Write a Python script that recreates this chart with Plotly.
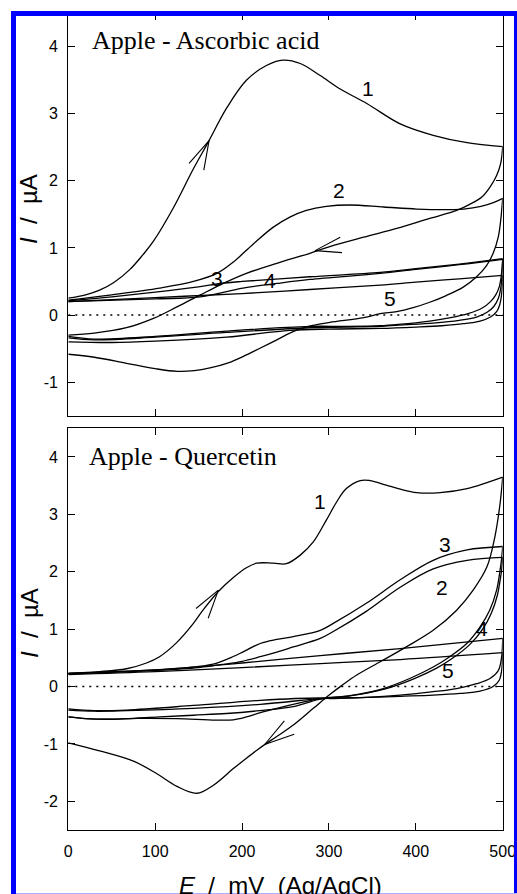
import plotly.graph_objects as go

W, H = 517, 894

# ---------------- Top panel: Apple - Ascorbic acid ----------------
# forward (0 -> 500 mV) and reverse (500 -> 0 mV) branches
A1_fwd_E = [0, 20, 36, 52, 71, 86, 98, 121, 144, 162, 182, 205, 228, 247, 267, 290, 313, 344, 382, 420, 459, 500]
A1_fwd_I = [0.25, 0.30, 0.37, 0.48, 0.68, 0.90, 1.10, 1.60, 2.18, 2.6, 3.08, 3.5, 3.72, 3.8, 3.75, 3.57, 3.37, 3.15, 2.85, 2.68, 2.57, 2.51]
A1_rev_E = [500, 497.7, 493, 485, 476, 462, 447, 416, 378, 340, 301, 278, 240, 205, 175, 152, 125, 98, 67, 30, 0]
A1_rev_I = [2.51, 2.26, 2.08, 1.90, 1.76, 1.65, 1.56, 1.44, 1.29, 1.16, 1.02, 0.92, 0.77, 0.62, 0.45, 0.30, 0.12, -0.05, -0.19, -0.27, -0.30]

A2_fwd_E = [0, 50, 105, 144, 171, 190, 213, 236, 255, 274, 297, 324, 363, 401, 430, 455, 475, 490, 500]
A2_fwd_I = [0.22, 0.30, 0.40, 0.50, 0.62, 0.79, 1.06, 1.31, 1.46, 1.56, 1.62, 1.64, 1.61, 1.58, 1.57, 1.58, 1.62, 1.68, 1.74]
A2_rev_E = [500, 497.7, 495, 489, 481.6, 470, 455, 435, 416, 397, 378, 359, 340, 301, 280, 260, 240, 220, 201, 185, 163, 145, 125, 100, 67, 30, 0]
A2_rev_I = [1.74, 1.41, 1.17, 0.92, 0.74, 0.57, 0.42, 0.29, 0.19, 0.11, 0.05, 0.02, -0.04, -0.11, -0.16, -0.24, -0.37, -0.50, -0.62, -0.71, -0.79, -0.83, -0.84, -0.80, -0.72, -0.63, -0.585]

A3_fwd_E = [0, 50, 100, 150, 175, 200, 278, 359, 400, 450, 500]
A3_fwd_I = [0.21, 0.27, 0.34, 0.42, 0.47, 0.50, 0.57, 0.635, 0.69, 0.76, 0.84]
A3_rev_E = [500, 498.5, 496, 492, 486, 476, 460, 440, 416, 380, 359, 320, 278, 182, 100, 30, 0]
A3_rev_I = [0.84, 0.60, 0.42, 0.30, 0.20, 0.10, 0.02, -0.04, -0.09, -0.14, -0.16, -0.17, -0.17, -0.24, -0.32, -0.36, -0.32]

A4_fwd_E = [0, 100, 152, 201, 240, 278, 359, 400, 450, 500]
A4_fwd_I = [0.20, 0.24, 0.27, 0.40, 0.47, 0.53, 0.62, 0.68, 0.75, 0.83]
A4_rev_E = [500, 499, 497.5, 495, 490, 482, 470, 450, 420, 380, 359, 320, 278, 182, 100, 30, 0]
A4_rev_I = [0.83, 0.55, 0.38, 0.25, 0.13, 0.04, -0.03, -0.08, -0.12, -0.15, -0.17, -0.18, -0.19, -0.26, -0.33, -0.37, -0.34]

A5_fwd_E = [0, 100, 200, 278, 359, 400, 450, 500]
A5_fwd_I = [0.20, 0.26, 0.32, 0.38, 0.446, 0.49, 0.54, 0.59]
A5_rev_E = [500, 499.5, 498.5, 496.5, 493, 486, 474, 455, 430, 400, 359, 300, 255, 182, 100, 50, 0]
A5_rev_I = [0.59, 0.42, 0.28, 0.15, 0.05, -0.03, -0.09, -0.13, -0.16, -0.18, -0.20, -0.21, -0.23, -0.33, -0.39, -0.41, -0.40]

# ---------------- Bottom panel: Apple - Quercetin ----------------
Q1_fwd_E = [0, 36, 67, 90, 105, 125, 144, 155, 173, 190, 205, 217, 236, 251, 267, 282, 297, 309, 320, 336, 347, 366, 382, 401, 428, 459, 500]
Q1_fwd_I = [0.23, 0.26, 0.31, 0.41, 0.52, 0.77, 1.10, 1.33, 1.66, 1.90, 2.07, 2.15, 2.15, 2.14, 2.29, 2.52, 2.90, 3.22, 3.45, 3.59, 3.59, 3.51, 3.44, 3.38, 3.38, 3.45, 3.65]
Q1_rev_E = [500, 497, 491, 482, 466, 447, 420, 390, 360, 332, 315, 301, 282, 259, 240, 228, 217, 205, 190, 167, 148, 125, 102, 75, 36, 0]
Q1_rev_I = [3.65, 3.19, 2.61, 2.09, 1.68, 1.33, 0.98, 0.70, 0.44, 0.20, 0.02, -0.14, -0.38, -0.67, -0.87, -0.99, -1.11, -1.25, -1.43, -1.72, -1.86, -1.74, -1.52, -1.30, -1.12, -0.98]

Q2_fwd_E = [0, 100, 150, 180, 200, 221, 240, 259, 290, 305, 343, 382, 420, 459, 500]
Q2_fwd_I = [0.22, 0.28, 0.33, 0.39, 0.44, 0.52, 0.60, 0.69, 0.84, 0.96, 1.31, 1.73, 2.05, 2.20, 2.25]
Q2_rev_E = [500, 498.5, 497, 494, 487, 477, 462, 443, 424, 397, 365, 326, 290, 259, 220, 182, 144, 105, 48, 20, 0]
Q2_rev_I = [2.25, 2.00, 1.85, 1.60, 1.28, 1.00, 0.73, 0.50, 0.32, 0.13, -0.04, -0.16, -0.22, -0.35, -0.42, -0.47, -0.50, -0.53, -0.57, -0.56, -0.53]

Q3_fwd_E = [0, 100, 150, 171, 185, 198, 221, 240, 259, 290, 305, 343, 382, 420, 459, 500]
Q3_fwd_I = [0.23, 0.29, 0.35, 0.41, 0.49, 0.58, 0.75, 0.82, 0.87, 0.98, 1.10, 1.45, 1.86, 2.20, 2.38, 2.44]
Q3_rev_E = [500, 498.5, 497, 493, 485, 474, 458.6, 439, 420, 393, 362.6, 324, 290, 265, 240, 220, 205, 190, 170, 125, 80, 48, 20, 0]
Q3_rev_I = [2.44, 2.20, 2.03, 1.68, 1.33, 1.04, 0.75, 0.52, 0.34, 0.14, -0.035, -0.16, -0.21, -0.29, -0.38, -0.46, -0.53, -0.58, -0.585, -0.56, -0.555, -0.57, -0.56, -0.53]

Q4_fwd_E = [0, 100, 200, 290, 382, 500]
Q4_fwd_I = [0.23, 0.29, 0.41, 0.54, 0.66, 0.84]
Q4_rev_E = [500, 498.8, 495, 485.4, 470, 447, 420, 382, 343.5, 305, 290, 221, 144, 67, 30, 0]
Q4_rev_I = [0.84, 0.52, 0.28, 0.14, 0.05, -0.035, -0.09, -0.15, -0.19, -0.21, -0.20, -0.24, -0.33, -0.41, -0.42, -0.39]

Q5_fwd_E = [0, 100, 200, 290, 382, 500]
Q5_fwd_I = [0.21, 0.26, 0.33, 0.40, 0.47, 0.59]
Q5_rev_E = [500, 498.8, 496, 489, 474, 451, 420, 382, 343.5, 305, 290, 221, 144, 67, 30, 0]
Q5_rev_I = [0.59, 0.28, 0.11, 0.0, -0.08, -0.12, -0.15, -0.17, -0.19, -0.20, -0.21, -0.31, -0.38, -0.42, -0.43, -0.41]

# scan direction arrowheads (arm, tip, arm)
A_arrow1_E = [139, 162, 156]
A_arrow1_I = [2.26, 2.60, 2.16]
A_arrow2_E = [313, 284, 315]
A_arrow2_I = [1.16, 0.96, 0.93]
Q_arrow1_E = [147, 172.7, 161]
Q_arrow1_I = [1.36, 1.68, 1.19]
Q_arrow2_E = [248.7, 226, 260]
Q_arrow2_I = [-0.60, -1.01, -0.83]

# zero reference line
ZERO_E = [0, 500]
ZERO_I = [0, 0]

# curve number labels
A_label_text = ["1", "2", "3", "4", "5"]
A_label_E = [345, 311, 171.5, 232, 370]
A_label_I = [3.38, 1.86, 0.55, 0.52, 0.24]
Q_label_text = ["1", "3", "2", "4", "5"]
Q_label_E = [289.7, 433.6, 429.8, 476.6, 437.4]
Q_label_I = [3.22, 2.48, 1.72, 1.02, 0.28]

X_TICKS = [0, 100, 200, 300, 400, 500]
Y_TICKS_TOP = [-1, 0, 1, 2, 3, 4]
Y_TICKS_BOT = [-2, -1, 0, 1, 2, 3, 4]

TOP_TITLE = "Apple - Ascorbic acid"
BOT_TITLE = "Apple - Quercetin"

fig = go.Figure()

LW = 1.3


def add_line(xs, ys, xa, ya, width=LW, dash=None, smooth=True):
    fig.add_trace(go.Scatter(
        x=xs, y=ys, xaxis=xa, yaxis=ya, mode="lines",
        line=dict(color="black", width=width, dash=dash,
                  shape="spline" if smooth else "linear",
                  smoothing=1.0 if smooth else None),
        hoverinfo="skip", showlegend=False))


top_curves = [(A1_fwd_E, A1_fwd_I), (A1_rev_E, A1_rev_I), (A2_fwd_E, A2_fwd_I), (A2_rev_E, A2_rev_I),
              (A3_fwd_E, A3_fwd_I), (A3_rev_E, A3_rev_I), (A4_fwd_E, A4_fwd_I), (A4_rev_E, A4_rev_I),
              (A5_fwd_E, A5_fwd_I), (A5_rev_E, A5_rev_I)]
bot_curves = [(Q1_fwd_E, Q1_fwd_I), (Q1_rev_E, Q1_rev_I), (Q2_fwd_E, Q2_fwd_I), (Q2_rev_E, Q2_rev_I),
              (Q3_fwd_E, Q3_fwd_I), (Q3_rev_E, Q3_rev_I), (Q4_fwd_E, Q4_fwd_I), (Q4_rev_E, Q4_rev_I),
              (Q5_fwd_E, Q5_fwd_I), (Q5_rev_E, Q5_rev_I)]

add_line(ZERO_E, ZERO_I, "x", "y", width=1.6, dash="2px,5px", smooth=False)
add_line(ZERO_E, ZERO_I, "x2", "y2", width=1.6, dash="2px,5px", smooth=False)
for xs, ys in top_curves:
    add_line(xs, ys, "x", "y")
for xs, ys in bot_curves:
    add_line(xs, ys, "x2", "y2")
for xs, ys in [(A_arrow1_E, A_arrow1_I), (A_arrow2_E, A_arrow2_I)]:
    add_line(xs, ys, "x", "y", width=1.1, smooth=False)
for xs, ys in [(Q_arrow1_E, Q_arrow1_I), (Q_arrow2_E, Q_arrow2_I)]:
    add_line(xs, ys, "x2", "y2", width=1.1, smooth=False)


def px_x(p):
    return p / W


def px_y(p):
    return 1 - p / H


tickfont = dict(family="Liberation Sans, Arial, sans-serif", size=16, color="black")
common_x = dict(range=[0, 500], tickvals=X_TICKS, ticks="inside", ticklen=7, tickwidth=1,
                tickcolor="black", showline=True, linecolor="black", linewidth=1.1,
                mirror="ticks", showgrid=False, zeroline=False, tickfont=tickfont,
                domain=[px_x(68.3), px_x(502.7)])
common_y = dict(ticks="inside", ticklen=7, tickwidth=1, tickcolor="black", showline=True,
                linecolor="black", linewidth=1.1, mirror="ticks", showgrid=False,
                zeroline=False, tickfont=tickfont, ticklabelstandoff=6)

fig.update_layout(
    width=W, height=H,
    margin=dict(l=0, r=0, t=0, b=0, autoexpand=False),
    paper_bgcolor="white", plot_bgcolor="white",
    showlegend=False,
    xaxis=dict(common_x, anchor="y", showticklabels=False),
    yaxis=dict(common_y, anchor="x", range=[-1.5, 4.5], tickvals=Y_TICKS_TOP,
               ticktext=[str(v) for v in Y_TICKS_TOP],
               domain=[px_y(415.6), px_y(13.2)]),
    xaxis2=dict(common_x, anchor="y2", showticklabels=True,
                ticktext=[str(v) for v in X_TICKS], ticklabelstandoff=7),
    yaxis2=dict(common_y, anchor="x2", range=[-2.5, 4.5], tickvals=Y_TICKS_BOT,
                ticktext=[str(v) for v in Y_TICKS_BOT],
                domain=[px_y(830), px_y(428.3)]),
)

labfont = dict(family="Liberation Sans, Arial, sans-serif", size=21, color="black")
ann = []
for t, e, i in zip(A_label_text, A_label_E, A_label_I):
    ann.append(dict(x=e, y=i, xref="x", yref="y", text=t, showarrow=False, font=labfont))
for t, e, i in zip(Q_label_text, Q_label_E, Q_label_I):
    ann.append(dict(x=e, y=i, xref="x2", yref="y2", text=t, showarrow=False, font=labfont))

serif = dict(family="Liberation Serif, Times New Roman, serif", size=26, color="black")
ann.append(dict(x=px_x(90), y=px_y(40.6), xref="paper", yref="paper", text=TOP_TITLE,
                showarrow=False, xanchor="left", yanchor="middle", font=serif))
ann.append(dict(x=px_x(86.5), y=px_y(456), xref="paper", yref="paper", text=BOT_TITLE,
                showarrow=False, xanchor="left", yanchor="middle", font=serif))

axfont = dict(family="Liberation Sans, Arial, sans-serif", size=24, color="black")
ytitle = "<i>I</i>\u00a0\u00a0/\u00a0\u00a0µA"
ann.append(dict(x=px_x(29), y=px_y(209), xref="paper", yref="paper", text=ytitle,
                showarrow=False, textangle=-90, xanchor="center", yanchor="middle", font=axfont))
ann.append(dict(x=px_x(29), y=px_y(623), xref="paper", yref="paper", text=ytitle,
                showarrow=False, textangle=-90, xanchor="center", yanchor="middle", font=axfont))
ann.append(dict(x=px_x(280), y=px_y(885.5), xref="paper", yref="paper",
                text="<i>E</i>\u00a0\u00a0/\u00a0\u00a0mV\u00a0\u00a0(Ag/AgCl)",
                showarrow=False, xanchor="center", yanchor="middle", font=axfont))
fig.update_layout(annotations=ann)

# blue frame around the figure
fig.add_shape(type="rect", xref="paper", yref="paper",
              x0=px_x(13.5), x1=px_x(516.5), y0=px_y(900), y1=px_y(13.5),
              line=dict(color="#0000ff", width=5), fillcolor="rgba(0,0,0,0)", layer="above")
fig.add_shape(type="line", xref="paper", yref="paper",
              x0=px_x(16), x1=1, y0=px_y(893.5), y1=px_y(893.5),
              line=dict(color="#a8b0ff", width=1), layer="above")

fig.write_html(
    "out.html",
    config={"displayModeBar": False, "staticPlot": True},
    post_script="document.body.style.margin='0';document.body.style.overflow='hidden';"
                "document.documentElement.style.overflow='hidden';",
)
